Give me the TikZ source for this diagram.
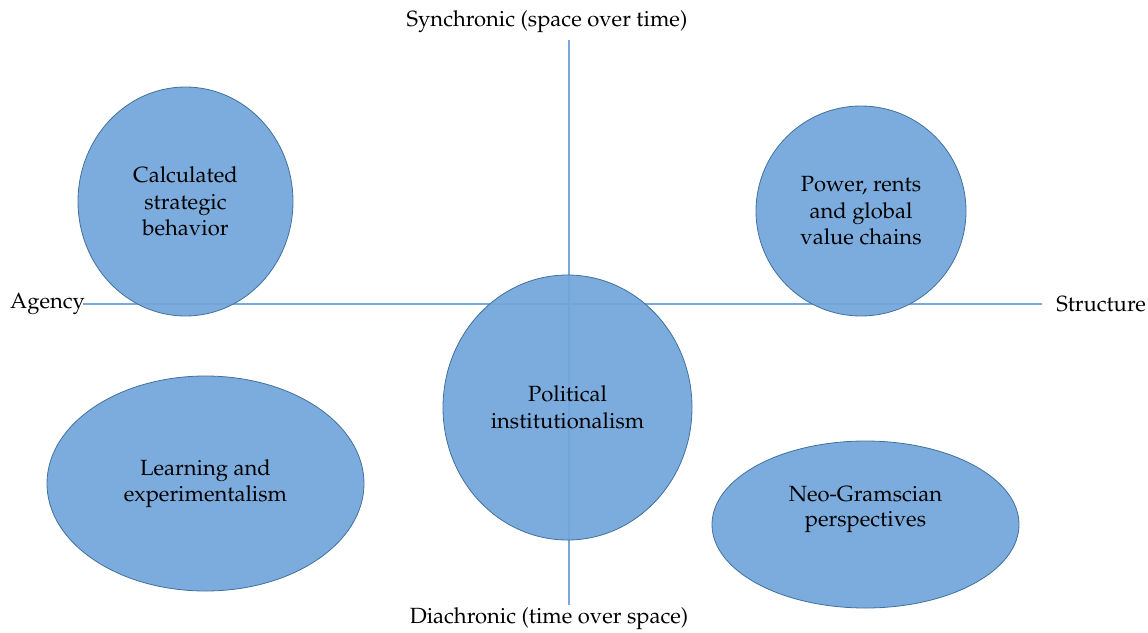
\documentclass[tikz,border=0pt]{standalone}
\usepackage[T1]{fontenc}
\usepackage{mathpazo}
\usetikzlibrary{shapes.geometric}
\definecolor{bubblefill}{RGB}{114,166,219}
\definecolor{bubbleedge}{RGB}{65,113,156}
\definecolor{axiscol}{RGB}{120,168,220}
\tikzset{
  bubble/.style={ellipse, draw=bubbleedge, line width=0.8pt, fill=bubblefill, fill opacity=0.93, text opacity=1, text=black, align=center, inner sep=0pt, font=\fontsize{22}{26.5}\selectfont},
  bubbletext/.style={align=center, inner sep=0pt, text=black, font=\fontsize{22}{25}\selectfont},
  axislabel/.style={inner sep=0pt, font=\fontsize{22}{26}\selectfont},
  axisline/.style={draw=axiscol, line width=1.1pt}
}
\begin{document}
\begin{tikzpicture}[x=1pt,y=-1pt]
\useasboundingbox (0,0) rectangle (1148,632);
% axis labels
\node[axislabel] (sync) at (547,22) {Synchronic (space over time)};
\node[axislabel] (diac) at (549,619) {Diachronic (time over space)};
\node[axislabel, anchor=west] (agency) at (10,304) {Agency};
\node[axislabel, anchor=east] (structure) at (1146,304) {Structure};
% axes
\coordinate (hl) at (83,304);
\coordinate (hr) at (1042,304);
\coordinate (vt) at (569,40);
\coordinate (vb) at (569,605);
\draw[axisline] (hl) -- (hr);
\draw[axisline] (vt) -- (vb);
% bubbles
\node[bubble, minimum width=215, minimum height=229] (calc) at (185.5,201.5) {Calculated\\strategic\\behavior};
\node[bubble, minimum width=210, minimum height=210] (power) at (861,211) {Power, rents\\and global\\value chains};
\node[bubble, minimum width=249, minimum height=265] (polit) at (567.5,407.5) {Political\\institutionalism};
\node[bubble, minimum width=317, minimum height=215] (learn) at (205.5,483.5) {Learning and\\experimentalism};
\node[bubble, minimum width=307, minimum height=167] (neo) at (865.5,524.5) {};
\node[bubbletext] (neotext) at ([yshift=15pt]neo.center) {Neo-Gramscian\\perspectives};
\end{tikzpicture}
\end{document}
